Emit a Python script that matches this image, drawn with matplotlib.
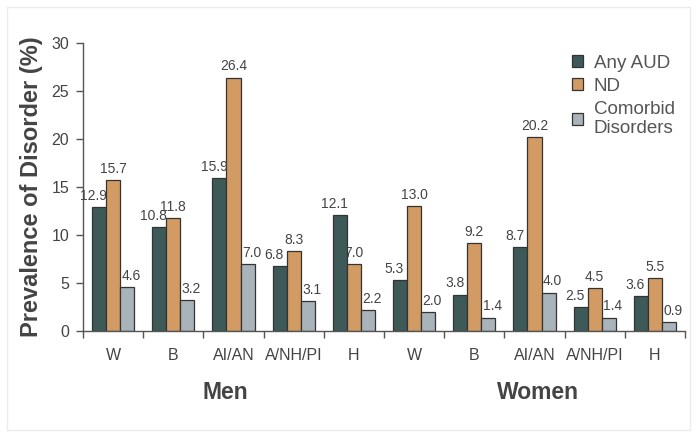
import numpy as np
import matplotlib.pyplot as plt
from matplotlib.patches import Rectangle

plt.rcParams['font.family'] = ['Liberation Sans', 'DejaVu Sans']

groups = ['W', 'B', 'AI/AN', 'A/NH/PI', 'H', 'W', 'B', 'AI/AN', 'A/NH/PI', 'H']
any_aud = [12.9, 10.8, 15.9, 6.8, 12.1, 5.3, 3.8, 8.7, 2.5, 3.6]
nd = [15.7, 11.8, 26.4, 8.3, 7.0, 13.0, 9.2, 20.2, 4.5, 5.5]
comorbid = [4.6, 3.2, 7.0, 3.1, 2.2, 2.0, 1.4, 4.0, 1.4, 0.9]

series = [
    ('Any AUD', any_aud, '#3d5a59', -4),
    ('ND', nd, '#d29b63', 0),
    ('Comorbid\nDisorders', comorbid, '#a9b3ba', 3),
]

txt = '#444444'
fig = plt.figure(figsize=(7, 4.37), dpi=100)
fig.patches.append(Rectangle((7 / 700, 1 - 430 / 437), 683 / 700, 423 / 437,
                             transform=fig.transFigure, fill=False,
                             edgecolor='#ececec', lw=1))
ax = fig.add_axes([83 / 700, 1 - 331 / 437, 602 / 700, 288 / 437])

x = np.arange(len(groups)) + 0.5
w = 0.233
for i, (name, vals, col, dx) in enumerate(series):
    pos = x + (i - 1) * w
    ax.bar(pos, vals, w, color=col, edgecolor='#333333', lw=0.9, label=name)
    for xp, v in zip(pos, vals):
        ax.annotate(f'{v:.1f}', (xp, v), xytext=(dx, 3), textcoords='offset points',
                    ha='center', va='bottom', fontsize=10, color=txt)

ax.set_xlim(0, len(groups))
ax.set_ylim(0, 30)
ax.set_yticks(np.arange(0, 31, 5))
ax.set_xticks(x)
ax.set_xticklabels(groups)
ax.set_xticks(np.arange(0, len(groups) + 1), minor=True)
ax.tick_params(axis='x', which='major', length=0, pad=12, labelsize=11.5, labelcolor=txt)
ax.tick_params(axis='x', which='minor', length=5, color='#555555', width=1)
ax.tick_params(axis='y', length=5, color='#555555', width=1, pad=5,
               labelsize=11.5, labelcolor=txt)
for s in ['top', 'right']:
    ax.spines[s].set_visible(False)
for s in ['left', 'bottom']:
    ax.spines[s].set_color('#555555')
    ax.spines[s].set_linewidth(1)

ax.set_ylabel('Prevalence of Disorder (%)', fontsize=17, fontweight='bold',
              color=txt, labelpad=6)

tr = ax.get_xaxis_transform()
ax.text(2.36, -0.215, 'Men', transform=tr, ha='center', va='center',
        fontsize=16.5, fontweight='bold', color=txt)
ax.text(7.56, -0.215, 'Women', transform=tr, ha='center', va='center',
        fontsize=16.5, fontweight='bold', color=txt)

ax.legend(loc='upper left', bbox_to_anchor=(0.80, 0.985), frameon=False,
          fontsize=13.5, handlelength=0.6, handleheight=0.6, handletextpad=0.55,
          labelspacing=0.32, labelcolor='#555555', borderaxespad=0)

fig.savefig('out.png', dpi=100)
